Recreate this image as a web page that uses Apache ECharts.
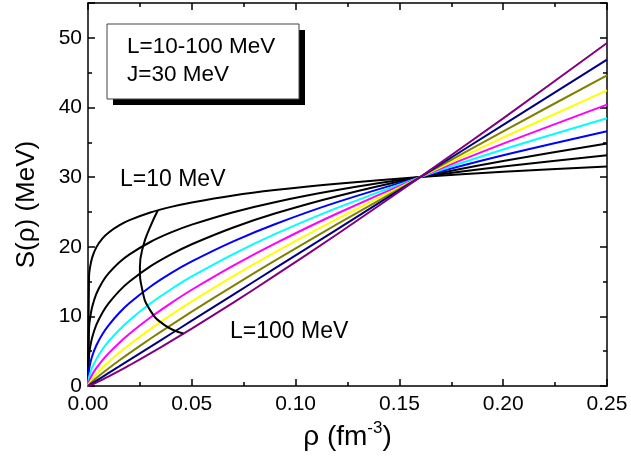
<!DOCTYPE html>
<html>
<head>
<meta charset="utf-8">
<script src="https://cdn.jsdelivr.net/npm/echarts@6/dist/echarts.min.js"></script>
<style>html,body{margin:0;padding:0;background:#fff}#c{width:631px;height:459px}</style>
</head>
<body>
<div id="c"></div>
<script>
// density values (fm^-3)
var rho = [0, 0.0005, 0.001, 0.002, 0.004, 0.007, 0.01, 0.015, 0.02, 0.03, 0.04, 0.05, 0.07, 0.09, 0.12, 0.16, 0.2, 0.25];
// S(rho) in MeV for each slope L
var sL10  = [0, 15.80, 17.07, 18.44, 19.91, 21.19, 22.05, 23.06, 23.81, 24.91, 25.72, 26.36, 27.37, 28.14, 29.06, 30, 30.75, 31.53];
var sL20  = [0, 8.33, 9.71, 11.33, 13.22, 14.97, 16.20, 17.73, 18.90, 20.68, 22.05, 23.17, 24.96, 26.40, 28.14, 30, 31.52, 33.13];
var sL30  = [0, 4.39, 5.53, 6.96, 8.77, 10.57, 11.90, 13.63, 15.00, 17.17, 18.90, 20.36, 22.77, 24.77, 27.26, 30, 32.32, 34.81];
var sL40  = [0, 2.31, 3.14, 4.28, 5.82, 7.47, 8.75, 10.48, 11.91, 14.26, 16.21, 17.89, 20.77, 23.23, 26.40, 30, 33.13, 36.58];
var sL50  = [0, 1.22, 1.79, 2.63, 3.86, 5.27, 6.43, 8.05, 9.45, 11.84, 13.89, 15.73, 18.95, 21.80, 25.57, 30, 33.96, 38.44];
var sL60  = [0, 0.64, 1.02, 1.62, 2.56, 3.72, 4.72, 6.19, 7.50, 9.83, 11.91, 13.82, 17.29, 20.45, 24.77, 30, 34.81, 40.40];
var sL70  = [0, 0.34, 0.58, 0.99, 1.70, 2.63, 3.47, 4.76, 5.95, 8.16, 10.21, 12.14, 15.77, 19.18, 23.99, 30, 35.69, 42.45];
var sL80  = [0, 0.18, 0.33, 0.61, 1.13, 1.86, 2.55, 3.66, 4.72, 6.78, 8.75, 10.67, 14.39, 17.99, 23.23, 30, 36.58, 44.61];
var sL90  = [0, 0.09, 0.19, 0.38, 0.75, 1.31, 1.88, 2.81, 3.75, 5.63, 7.50, 9.38, 13.13, 16.88, 22.50, 30, 37.50, 46.88];
var sL100 = [0, 0.05, 0.11, 0.23, 0.50, 0.93, 1.38, 2.16, 2.98, 4.67, 6.44, 8.24, 11.97, 15.84, 21.79, 30, 38.44, 49.26];
var seriesNames = ['L=10 MeV','L=20 MeV','L=30 MeV','L=40 MeV','L=50 MeV','L=60 MeV','L=70 MeV','L=80 MeV','L=90 MeV','L=100 MeV'];
var seriesValues = [sL10, sL20, sL30, sL40, sL50, sL60, sL70, sL80, sL90, sL100];
var seriesColors = ['#000000','#000000','#000000','#0000ff','#00ffff','#ff00ff','#ffff00','#808000','#000080','#800080'];
// guide arc linking the two labels
var arcX = [0.0336, 0.0299, 0.0267, 0.0250, 0.0262, 0.0299, 0.0371, 0.0459];
var arcY = [25.2, 22.8, 20.2, 17.1, 13.75, 10.9, 8.7, 7.55];
var xTicks = [0, 0.05, 0.10, 0.15, 0.20, 0.25];
var yTicks = [0, 10, 20, 30, 40, 50];

var FONT = 'Liberation Sans, Arial, Helvetica, sans-serif';
var chart = echarts.init(document.getElementById('c'));

function axisCommon(show) {
  return {
    axisLine: {show: true, onZero: false, lineStyle: {color: '#000', width: 1.5}},
    axisTick: {show: true, inside: true, length: 7, lineStyle: {color: '#000', width: 1.5}},
    minorTick: {show: true, splitNumber: 2, length: 4, lineStyle: {color: '#000', width: 1.5}},
    splitLine: {show: false},
    axisLabel: {show: show, color: '#000', fontSize: 21, fontFamily: FONT}
  };
}

var xBottom = Object.assign(axisCommon(true), {
  type: 'value', min: 0, max: 0.25, interval: 0.05, position: 'bottom',
  name: '{a|ρ (fm}{s|-3}{a|)}', nameLocation: 'middle', nameGap: 31,
  nameTextStyle: {rich: {
    a: {fontSize: 28, fontFamily: FONT, color: '#000', lineHeight: 34},
    s: {fontSize: 17, fontFamily: FONT, color: '#000', verticalAlign: 'top', lineHeight: 34, padding: [0, 0, 12, 0]}
  }}
});
xBottom.axisLabel.formatter = function (v) { return v.toFixed(2); };
xBottom.axisLabel.margin = 8;
var xTop = Object.assign(axisCommon(false), {type: 'value', min: 0, max: 0.25, interval: 0.05, position: 'top'});

var yLeft = Object.assign(axisCommon(true), {
  type: 'value', min: 0, max: 55, interval: 10, position: 'left',
  name: 'S(ρ) (MeV)', nameLocation: 'middle', nameGap: 48,
  nameTextStyle: {fontSize: 26, fontFamily: FONT, color: '#000', padding: [0, 20, 0, 0]}
});
yLeft.axisLabel.margin = 6;
yLeft.axisLabel.showMaxLabel = false;
var yRight = Object.assign(axisCommon(false), {type: 'value', min: 0, max: 55, interval: 10, position: 'right'});

var series = seriesValues.map(function (vals, k) {
  return {
    name: seriesNames[k], type: 'line', xAxisIndex: 0, yAxisIndex: 0,
    data: rho.map(function (x, i) { return [x, vals[i]]; }),
    showSymbol: false, smooth: 0.25,
    lineStyle: {color: seriesColors[k], width: 2}, itemStyle: {color: seriesColors[k]},
    silent: true, z: 2 + k * 0.01
  };
});
series.push({
  name: 'arc', type: 'line', data: arcX.map(function (x, i) { return [x, arcY[i]]; }),
  showSymbol: false, smooth: 0.5, lineStyle: {color: '#000', width: 2}, silent: true, z: 3
});

chart.setOption({
  animation: false,
  backgroundColor: '#fff',
  grid: {left: 88, right: 24, top: 3, bottom: 73},
  xAxis: [xBottom, xTop],
  yAxis: [yLeft, yRight],
  series: series,
  graphic: [
    {type: 'rect', shape: {x: 113, y: 30, width: 192, height: 75}, style: {fill: '#000'}, z: 10},
    {type: 'rect', shape: {x: 107, y: 24, width: 192, height: 75}, style: {fill: '#fff', stroke: '#444', lineWidth: 1}, z: 11},
    {type: 'text', x: 127, y: 47, z: 12, style: {text: 'L=10-100 MeV', fontSize: 22.5, fontFamily: FONT, fill: '#000', align: 'left', verticalAlign: 'middle'}},
    {type: 'text', x: 127, y: 75, z: 12, style: {text: 'J=30 MeV', fontSize: 22.5, fontFamily: FONT, fill: '#000', align: 'left', verticalAlign: 'middle'}},
    {type: 'text', x: 120, y: 180, z: 12, style: {text: 'L=10 MeV', fontSize: 23, fontFamily: FONT, fill: '#000', align: 'left', verticalAlign: 'middle'}},
    {type: 'text', x: 230, y: 332, z: 12, style: {text: 'L=100 MeV', fontSize: 23, fontFamily: FONT, fill: '#000', align: 'left', verticalAlign: 'middle'}}
  ]
});
</script>
</body>
</html>
